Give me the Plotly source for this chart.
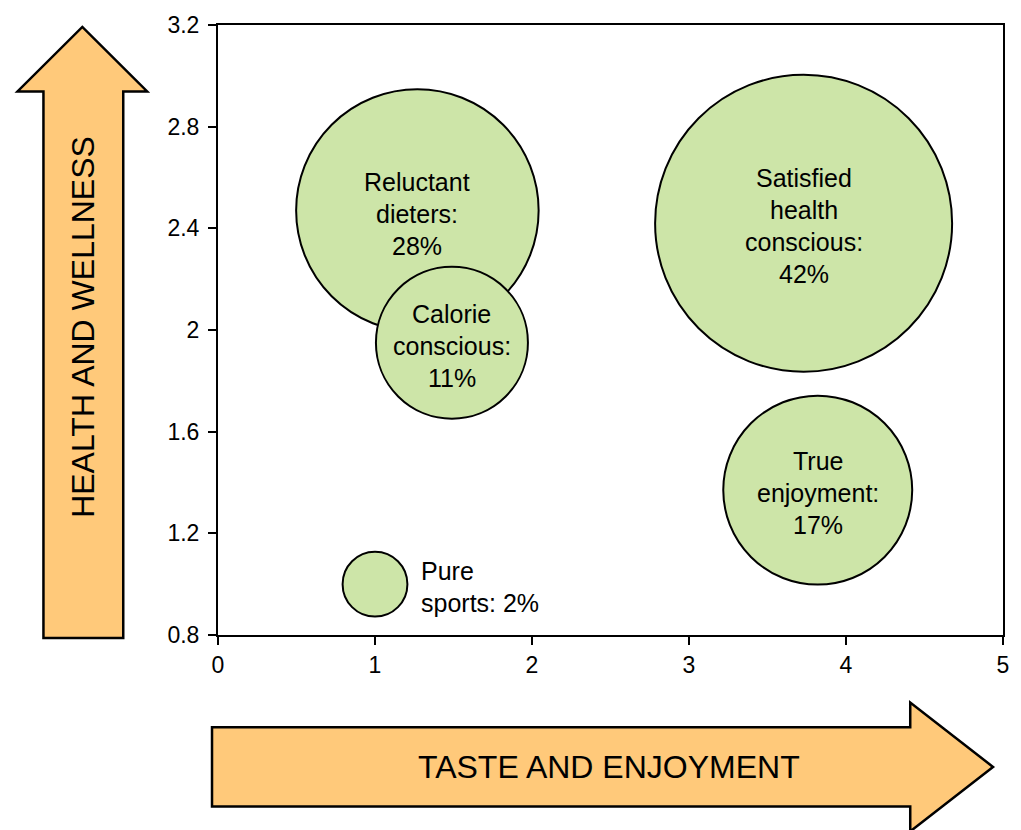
import plotly.graph_objects as go

# Consumer segments: position on the two attitude axes, share of consumers
segments = ["Reluctant dieters", "Satisfied health conscious", "Calorie conscious",
            "True enjoyment", "Pure sports"]
taste = [1.27, 3.73, 1.49, 3.82, 1.0]
health = [2.47, 2.42, 1.95, 1.37, 1.0]
share = [28, 42, 11, 17, 2]

# Label lines drawn for each bubble
label_lines = [
    ["Reluctant", "dieters:", "28%"],
    ["Satisfied", "health", "conscious:", "42%"],
    ["Calorie", "conscious:", "11%"],
    ["True", "enjoyment:", "17%"],
    ["Pure", "sports: 2%"],
]
label_outside = [False, False, False, False, True]

x_ticks = [0, 1, 2, 3, 4, 5]
y_ticks = [0.8, 1.2, 1.6, 2.0, 2.4, 2.8, 3.2]

W, H = 1021, 830
ML, MR, MT, MB = 218, 16, 20, 195
PW, PH = W - ML - MR, H - MT - MB

BUBBLE = "#CDE5A8"
ARROW = "#FFC97A"
FONT = "Liberation Sans, Arial, sans-serif"

# Bubble area proportional to share; largest bubble ~297 px across
MAX_D = 297.0
MAX_SHARE = max(share)
sizeref = 2 * MAX_SHARE / MAX_D ** 2

fig = go.Figure()
fig.add_trace(go.Scatter(
    x=taste, y=health, mode="markers", text=segments, hoverinfo="text",
    marker=dict(size=share, sizemode="area", sizeref=sizeref,
                color=BUBBLE, opacity=1, line=dict(color="black", width=2)),
    showlegend=False,
))

LINE_GAP = 32
annotations = []
for xi, yi, lines, outside, s in zip(taste, health, label_lines, label_outside, share):
    n = len(lines)
    radius = MAX_D / 2 * (s / MAX_SHARE) ** 0.5
    for i, line in enumerate(lines):
        annotations.append(dict(
            x=xi, y=yi, xref="x", yref="y", text=line, showarrow=False,
            xanchor="left" if outside else "center", yanchor="middle",
            xshift=radius + 12 if outside else 0,
            yshift=((n - 1) / 2 - i) * LINE_GAP - 3,
            font=dict(family=FONT, size=25, color="black"),
        ))


def px(x, y):
    """Pixel position on the page -> paper coordinates."""
    return (x - ML) / PW, (H - MB - y) / PH


def path(points):
    pts = [px(x, y) for x, y in points]
    return "M " + " L ".join(f"{a:.5f},{b:.5f}" for a, b in pts) + " Z"


up_arrow = [(43, 638), (43, 87), (17, 87), (82, 22), (147, 87), (123, 87), (123, 638)]
right_arrow = [(212, 728), (912, 728), (912, 703), (995, 768), (912, 833), (912, 808), (212, 808)]
shapes = [
    dict(type="path", xref="paper", yref="paper", path=path(p),
         fillcolor=ARROW, line=dict(color="black", width=2.5), layer="above")
    for p in (up_arrow, right_arrow)
]

ax, ay = px(82, 324)
annotations.append(dict(x=ax, y=ay, xref="paper", yref="paper", text="HEALTH AND WELLNESS",
                        showarrow=False, textangle=-90, xanchor="center", yanchor="middle",
                        font=dict(family=FONT, size=32, color="black")))
bx, by = px(610, 768)
annotations.append(dict(x=bx, y=by, xref="paper", yref="paper", text="TASTE AND ENJOYMENT",
                        showarrow=False, xanchor="center", yanchor="middle",
                        font=dict(family=FONT, size=32, color="black")))

axis_common = dict(showgrid=False, zeroline=False, showline=True, linecolor="black",
                   linewidth=2, mirror=True, ticks="outside", ticklen=8, tickwidth=1.5,
                   tickcolor="black", tickfont=dict(family=FONT, size=23, color="black"))

fig.update_layout(
    width=W, height=H,
    margin=dict(l=ML, r=MR, t=MT, b=MB),
    paper_bgcolor="white", plot_bgcolor="white",
    xaxis=dict(range=[0, 5], tickvals=x_ticks, ticktext=[str(v) for v in x_ticks],
               **axis_common),
    yaxis=dict(range=[0.8, 3.2], tickvals=y_ticks, ticktext=[f"{v:g}" for v in y_ticks],
               ticklabelstandoff=4, **axis_common),
    shapes=shapes,
    annotations=annotations,
)

fig.write_html("out.html")
